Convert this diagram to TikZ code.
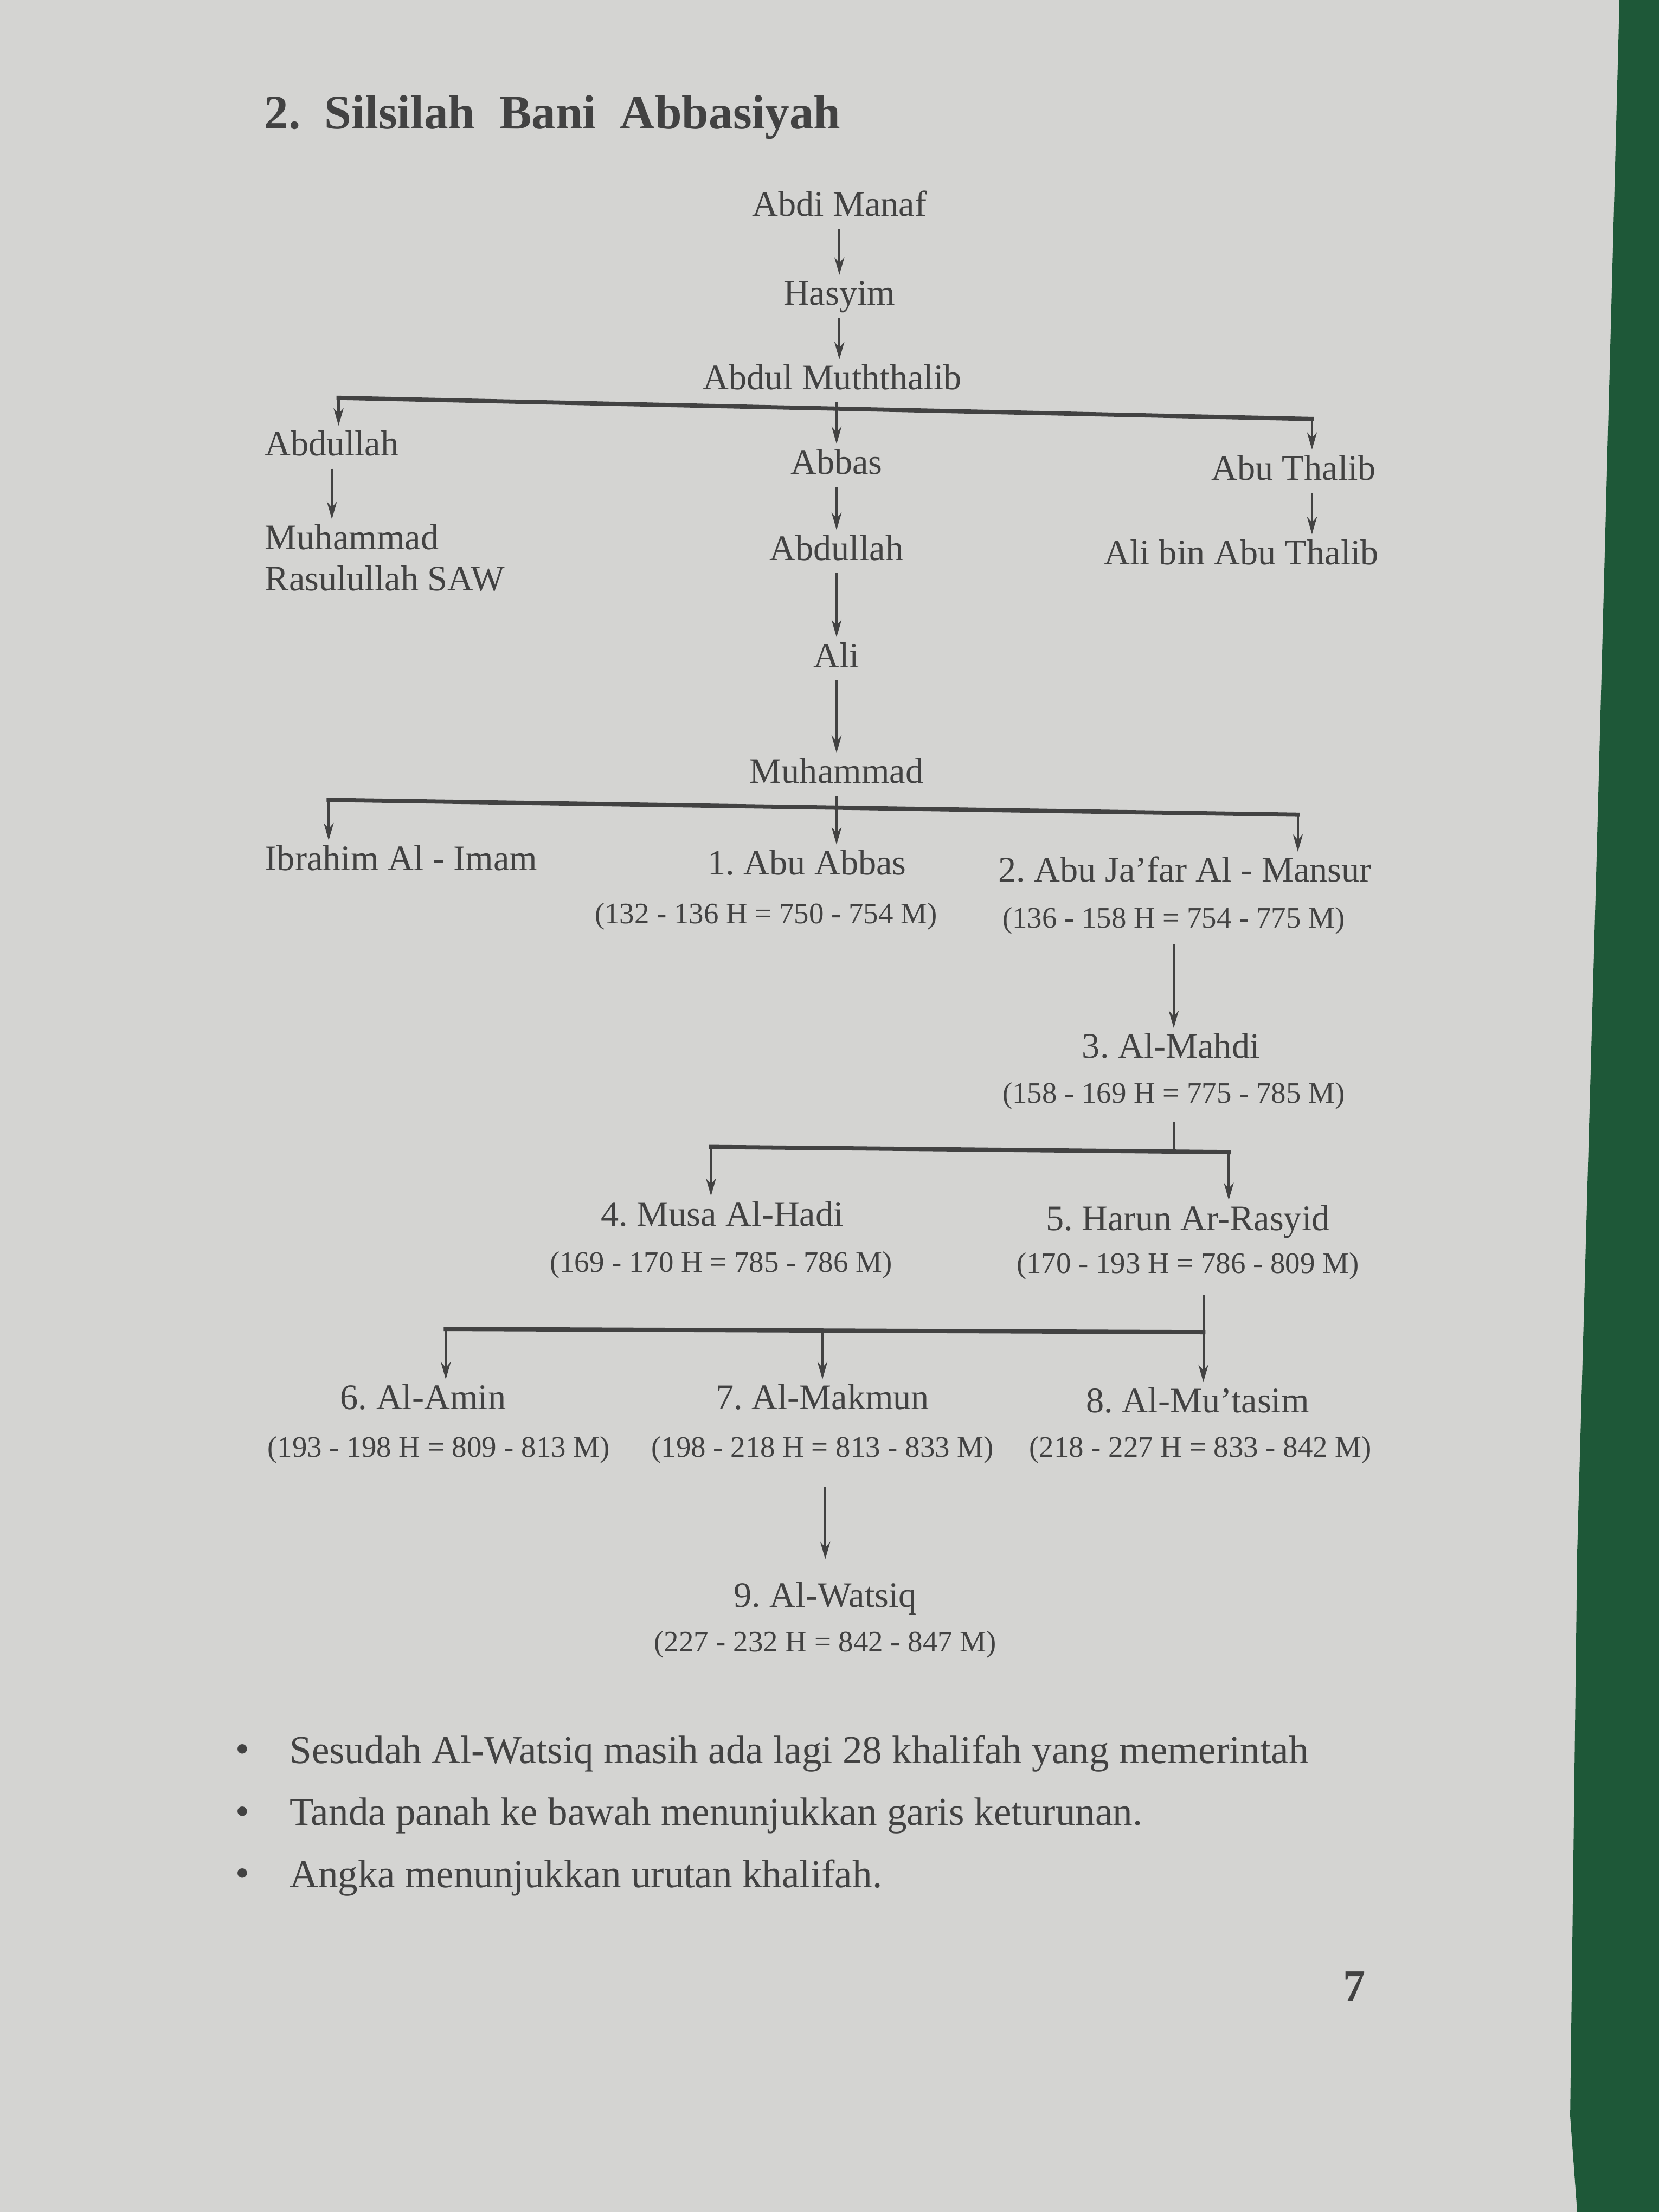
\documentclass[tikz,border=0pt]{standalone}
\usepackage{fontspec}
\setmainfont{Liberation Serif}
\frenchspacing
\usetikzlibrary{arrows.meta,positioning,calc}
\definecolor{pagegrey}{RGB}{212,212,210}
\definecolor{inkgrey}{RGB}{66,66,66}
\definecolor{clothgreen}{RGB}{30,88,56}

\tikzset{
  namefont/.style={text=inkgrey, font=\fontsize{14.5}{16.5}\selectfont, inner sep=2pt},
  person/.style={namefont, text height=10pt, text depth=3pt},
  reign/.style={text=inkgrey, font=\fontsize{12}{14}\selectfont, inner sep=1pt, text height=9pt, text depth=2.5pt},
  remark/.style={text=inkgrey, font=\fontsize{16}{18}\selectfont, anchor=west, inner sep=0pt},
  arr/.style={draw=inkgrey, line width=0.9pt, -{Stealth[length=7pt,width=4pt]}},
  bar/.style={draw=inkgrey, line width=1.7pt, line cap=rect},
  stem/.style={draw=inkgrey, line width=0.9pt},
}

\begin{document}
\begin{tikzpicture}[x=0.02cm,y=-0.02cm]
    % page and cloth
    \fill[pagegrey] (0,0) rectangle (1176,1568);
    \fill[clothgreen] (1148,0) -- (1140,300) -- (1132,600) -- (1118,1100) -- (1113,1500) -- (1118,1568) -- (1176,1568) -- (1176,0) -- cycle;
    \useasboundingbox (0,0) rectangle (1176,1568);

    % Title
    \node[text=inkgrey, font=\fontsize{19.5}{22}\selectfont\bfseries, anchor=west, inner sep=0pt] (title) at (187,83) {2.\hspace{0.5em}Silsilah\hspace{0.5em}Bani\hspace{0.5em}Abbasiyah};

    % Ancestors
    \node[person] (manaf) at (595,147) {Abdi Manaf};
    \node[person] (hasyim) at (595,210) {Hasyim};
    \node[person] (muththalib) at (590,270) {Abdul Muththalib};
    \draw[arr] (manaf) -- (hasyim);
    \draw[arr] (hasyim.south) -- (hasyim.south |- muththalib.north);

    % Sons of Abdul Muththalib
    \coordinate (b1l) at (240,282);
    \coordinate (b1r) at (930,297);
    \draw[bar] (b1l) -- (b1r);
    \node[person, anchor=west] (abdullahA) at (184,317) {Abdullah};
    \node[person] (abbas) at (593,330) {Abbas};
    \node[person] (thalib) at (917,334) {Abu Thalib};
    \draw[arr] (b1l) -- (b1l |- abdullahA.north);
    \draw[arr] (muththalib.south -| abbas) -- (abbas.north);
    \draw[arr] (b1r) -- (b1r |- thalib.north);

    % Left and right lines
    \node[namefont, anchor=north west, align=left] (rasul) at (184,368) {Muhammad\\Rasulullah SAW};
    \draw[arr] (abdullahA.south) -- (abdullahA.south |- rasul.north);
    \node[person] (alibin) at (880,394) {Ali bin Abu Thalib};
    \draw[arr] (thalib.south -| b1r) -- (b1r |- alibin.north);

    % Abbas line
    \node[person] (abdullahB) at (593,391) {Abdullah};
    \node[person] (ali) at (593,467) {Ali};
    \node[person] (muhammad) at (593,549) {Muhammad};
    \draw[arr] (abbas) -- (abdullahB);
    \draw[arr] (abdullahB) -- (ali);
    \draw[arr] (ali) -- (muhammad);

    % Sons of Muhammad
    \coordinate (b2l) at (233,567);
    \coordinate (b2r) at (920,577.5);
    \draw[bar] (b2l) -- (b2r);
    \node[person, anchor=west] (ibrahim) at (184,611) {Ibrahim Al - Imam};
    \node[person] (abuabbas) at (572,614) {1. Abu Abbas};
    \node[reign] (reign1) at (543,649) {(132 - 136 H = 750 - 754 M)};
    \node[person] (mansur) at (840,619) {2.\ Abu Ja'far Al - Mansur};
    \node[reign] (reign2) at (832,652) {(136 - 158 H = 754 - 775 M)};
    \draw[arr] (b2l) -- (b2l |- ibrahim.north);
    \draw[arr] (muhammad.south) -- (muhammad.south |- abuabbas.north);
    \draw[arr] (b2r) -- (b2r |- mansur.north);

    % Al-Mahdi
    \node[person] (mahdi) at (830,744) {3. Al-Mahdi};
    \node[reign] (reign3) at (832,776) {(158 - 169 H = 775 - 785 M)};
    \draw[arr] ([yshift=-3pt]reign2.south) -- (reign2.south |- mahdi.north);

    % Sons of Al-Mahdi
    \coordinate (b3l) at (504,813);
    \coordinate (b3r) at (871,816.7);
    \draw[bar] (b3l) -- (b3r);
    \draw[stem] ([yshift=-4pt]reign3.south) -- (reign3.south |- b3r);
    \node[person] (hadi) at (512,863) {4. Musa Al-Hadi};
    \node[reign] (reign4) at (511,896) {(169 - 170 H = 785 - 786 M)};
    \node[person] (rasyid) at (842,866) {5. Harun Ar-Rasyid};
    \node[reign] (reign5) at (842,897) {(170 - 193 H = 786 - 809 M)};
    \draw[arr] (b3l) -- (b3l |- hadi.north);
    \draw[arr] (b3r) -- (b3r |- rasyid.north);

    % Sons of Harun Ar-Rasyid
    \coordinate (b4l) at (316,942);
    \coordinate (b4m) at (583,943.2);
    \coordinate (b4r) at (853,944.3);
    \draw[bar] (b4l) -- (b4r);
    \draw[stem] ([yshift=-5pt]b4r |- reign5.south) -- (b4r);
    \node[person] (amin) at (300,993) {6. Al-Amin};
    \node[reign] (reign6) at (311,1027) {(193 - 198 H = 809 - 813 M)};
    \node[person] (makmun) at (583,993) {7. Al-Makmun};
    \node[reign] (reign7) at (583,1027) {(198 - 218 H = 813 - 833 M)};
    \node[person] (mutasim) at (849,995) {8. Al-Mu'tasim};
    \node[reign] (reign8) at (851,1027) {(218 - 227 H = 833 - 842 M)};
    \draw[arr] (b4l) -- (b4l |- amin.north);
    \draw[arr] (b4m) -- (b4m |- makmun.north);
    \draw[arr] (b4r) -- (b4r |- mutasim.north);

    % Al-Watsiq
    \node[person] (watsiq) at (585,1133) {9. Al-Watsiq};
    \node[reign] (reign9) at (585,1165) {(227 - 232 H = 842 - 847 M)};
    \draw[arr, shorten <=0.3cm, shorten >=0.25cm] (reign7.south -| watsiq) -- (watsiq.north);

    % Notes
    \node[remark] (note1) at (205,1243) {Sesudah Al-Watsiq masih ada lagi 28 khalifah yang memerintah};
    \node[remark] (note2) at (205,1287) {Tanda panah ke bawah menunjukkan garis keturunan.};
    \node[remark] (note3) at (205,1331) {Angka menunjukkan urutan khalifah.};
    \foreach \n in {1,2,3}
        \node[remark, anchor=center] (dot\n) at (note\n.west -| 172,0) {\textbullet};

    % Page number
    \node[text=inkgrey, font=\fontsize{18}{20}\selectfont\bfseries] (pageno) at (960,1408) {7};
\end{tikzpicture}
\end{document}
